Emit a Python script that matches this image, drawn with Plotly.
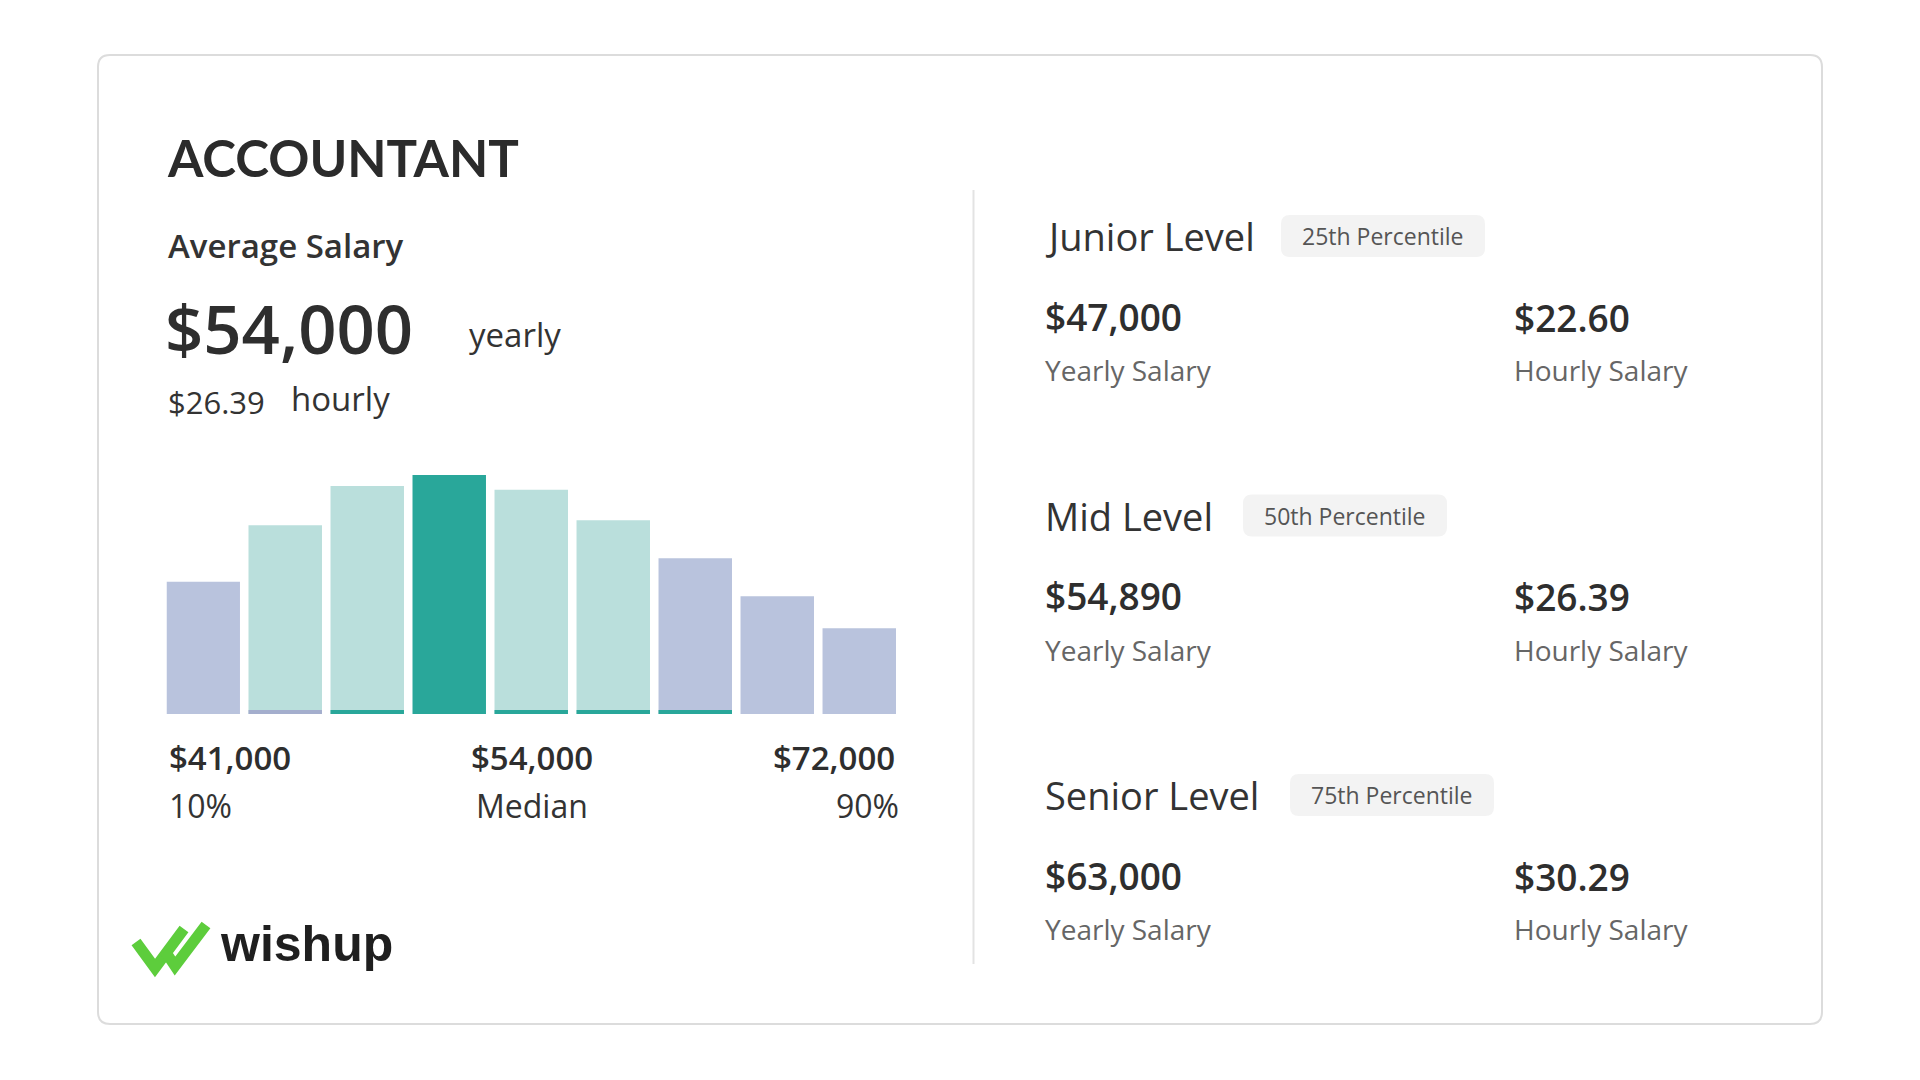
import plotly.graph_objects as go

# page body has an 8px margin; the figure fills the rest of the 1920x1080 window
OFF = 8
W, H = 1920 - 2 * OFF, 1080 - 2 * OFF

# ---------------- data ----------------
job_title = "ACCOUNTANT"
avg_yearly = "$54,000"
avg_hourly = "$26.39"
bin_index = list(range(9))
bin_freq = [108, 154, 186, 195, 183, 158, 127, 96, 70]
bin_band = ["outer", "inner", "inner", "median", "inner", "inner", "outer", "outer", "outer"]
bin_underline = [None, "outer", "median", None, "median", "median", "median", None, None]
range_values = ["$41,000", "$54,000", "$72,000"]
range_labels = ["10%", "Median", "90%"]
level_names = ["Junior Level", "Mid Level", "Senior Level"]
level_pct = ["25th Percentile", "50th Percentile", "75th Percentile"]
level_yearly = ["$47,000", "$54,890", "$63,000"]
level_hourly = ["$22.60", "$26.39", "$30.29"]

band_color = {"outer": "#b9c3dd", "inner": "#badfdc", "median": "#29a79a"}

def px(x):
    return (x - OFF) / W

def py(y):
    return 1 - (y - OFF) / H

fig = go.Figure()

# main bars
fig.add_trace(go.Bar(
    x=bin_index, y=bin_freq,
    marker=dict(color=[band_color[b] for b in bin_band], line=dict(width=0)),
    hoverinfo="skip", showlegend=False,
))
# thin underline accents
ul_y = [3.2 if u else 0 for u in bin_underline]
ul_c = [band_color[u] if u else "rgba(0,0,0,0)" for u in bin_underline]
ul_c = [("#a4aecd" if u == "outer" else c) for u, c in zip(bin_underline, ul_c)]
fig.add_trace(go.Bar(
    x=bin_index, y=ul_y,
    marker=dict(color=ul_c, line=dict(width=0)),
    hoverinfo="skip", showlegend=False,
))

bar_left, bar_right, bar_bottom, bar_top = 166.5, 896.0, 714.0, 475.0
fig.update_layout(
    width=W, height=H,
    margin=dict(l=0, r=0, t=0, b=0),
    paper_bgcolor="white", plot_bgcolor="rgba(0,0,0,0)",
    barmode="overlay", bargap=0.104,
    xaxis=dict(domain=[px(bar_left), px(bar_right)], range=[-0.448, 8.448],
               visible=False, fixedrange=True),
    yaxis=dict(domain=[py(bar_bottom), py(bar_top)], range=[0, max(bin_freq)],
               visible=False, fixedrange=True),
    showlegend=False,
)

shapes = []

def rounded_rect(x0, y0, x1, y1, r, fill, line_color=None, line_width=0):
    def P(x, y):
        return f"{px(x):.6f},{py(y):.6f}"
    path = (f"M {P(x0 + r, y0)} L {P(x1 - r, y0)} Q {P(x1, y0)} {P(x1, y0 + r)} "
            f"L {P(x1, y1 - r)} Q {P(x1, y1)} {P(x1 - r, y1)} "
            f"L {P(x0 + r, y1)} Q {P(x0, y1)} {P(x0, y1 - r)} "
            f"L {P(x0, y0 + r)} Q {P(x0, y0)} {P(x0 + r, y0)} Z")
    return dict(type="path", path=path, xref="paper", yref="paper",
                fillcolor=fill, layer="below",
                line=dict(color=line_color or "rgba(0,0,0,0)", width=line_width))

# card
shapes.append(rounded_rect(98, 55, 1822, 1024, 12, "white", "#dcdcdc", 2))
# divider
shapes.append(dict(type="line", xref="paper", yref="paper",
                   x0=px(973.5), x1=px(973.5), y0=py(190), y1=py(964),
                   line=dict(color="#e3e3e3", width=2)))

annotations = []

def txt(x, y, s, size, color="#333333", weight=400, anchor="left", family="Open Sans"):
    annotations.append(dict(
        x=px(x), y=py(y), xref="paper", yref="paper", text=s, showarrow=False,
        xanchor=anchor, yanchor="middle",
        font=dict(family=family, size=size, color=color, weight=weight),
    ))

# left panel
txt(165, 158, job_title, 51, "#2b2b2b", 700, family="Lato")
txt(166, 245, "Average Salary", 33, "#333333", 600)
txt(163, 328, avg_yearly, 67, "#2e2e2e", 600)
txt(467, 335, "yearly", 33, "#333333", 400)
txt(166, 402, avg_hourly, 31, "#333333", 400)
txt(289, 398, "hourly", 33, "#333333", 400)

label_x = [(167, "left"), (532, "center"), (897, "right")]
for (lx, an), v, lab in zip(label_x, range_values, range_labels):
    txt(lx, 757, v, 33, "#2e2e2e", 600, anchor=an)
    txt(lx + (4 if an == "right" else 0), 805, lab, 32, "#333333", 400, anchor=an)

# right panel levels
level_y = [236, 515.5, 795]
badge_x0 = [1281, 1243, 1290]
for i, (name, pct, yv, hv) in enumerate(zip(level_names, level_pct, level_yearly, level_hourly)):
    y0 = level_y[i]
    txt(1043, y0, name, 38, "#333333", 400)
    bx0 = badge_x0[i]
    shapes.append(rounded_rect(bx0, y0 - 21, bx0 + 204, y0 + 21, 9, "#f3f3f3"))
    txt(bx0 + 102, y0, pct, 23, "#555555", 400, anchor="center")
    txt(1043, y0 + 80, yv, 37, "#2e2e2e", 600)
    txt(1043, y0 + 134, "Yearly Salary", 28, "#666666", 400)
    txt(1512, y0 + 81, hv, 37, "#2e2e2e", 600)
    txt(1512, y0 + 134, "Hourly Salary", 28, "#666666", 400)

# logo
def line_path(pts):
    s = "M " + " L ".join(f"{px(x):.6f},{py(y):.6f}" for x, y in pts)
    return dict(type="path", path=s, xref="paper", yref="paper",
                line=dict(color="#5dcd3c", width=11))
shapes.append(line_path([(136, 942), (155, 968), (184, 929)]))
shapes.append(line_path([(165, 951), (175, 966), (206, 925)]))
txt(218, 944, "wishup", 50, "#1f1f1f", 700, family="Liberation Sans")

fig.update_layout(shapes=shapes, annotations=annotations)
fig.write_html("out.html")
